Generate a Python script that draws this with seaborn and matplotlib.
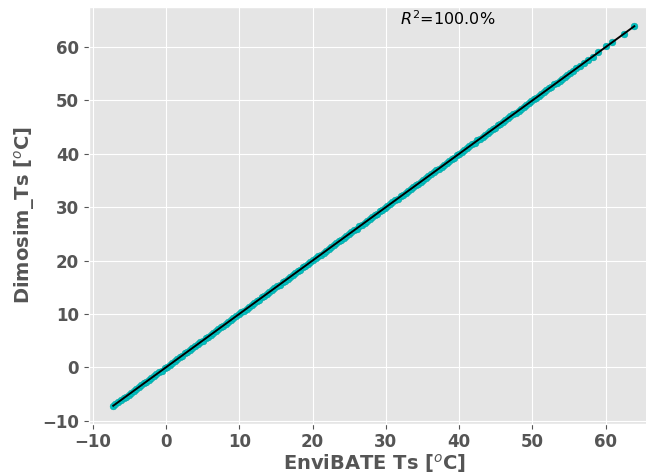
import numpy as np
import pandas as pd
import matplotlib
matplotlib.use("Agg")
import matplotlib.pyplot as plt
import seaborn as sns

# surface temperatures (points lie on the 1:1 line)
envibate_ts = [-7.2, -6.9, -6.5, -6.2, -5.8, -5.5, -5.1, -4.8, -4.4, -4.1,
               -3.7, -3.4, -3.0, -2.7, -2.3, -2.0, -1.6, -1.3, -0.9, -0.6,
               -0.2, 0.1, 0.5, 0.8, 1.2, 1.5, 1.9, 2.2, 2.6, 2.9,
               3.3, 3.6, 4.0, 4.3, 4.7, 5.0, 5.4, 5.7, 6.1, 6.4,
               6.8, 7.1, 7.5, 7.8, 8.2, 8.5, 8.9, 9.2, 9.6, 9.9,
               10.3, 10.6, 11.0, 11.3, 11.7, 12.0, 12.4, 12.7, 13.1, 13.4,
               13.8, 14.1, 14.5, 14.8, 15.2, 15.5, 15.9, 16.2, 16.6, 16.9,
               17.3, 17.6, 18.0, 18.3, 18.7, 19.0, 19.4, 19.7, 20.1, 20.4,
               20.8, 21.1, 21.5, 21.8, 22.2, 22.5, 22.9, 23.2, 23.6, 23.9,
               24.3, 24.6, 25.0, 25.3, 25.7, 26.0, 26.4, 26.7, 27.1, 27.4,
               27.8, 28.1, 28.5, 28.8, 29.2, 29.5, 29.9, 30.2, 30.6, 30.9,
               31.3, 31.6, 32.0, 32.3, 32.7, 33.0, 33.4, 33.7, 34.1, 34.4,
               34.8, 35.1, 35.5, 35.8, 36.2, 36.5, 36.9, 37.2, 37.6, 37.9,
               38.3, 38.6, 39.0, 39.3, 39.7, 40.0, 40.4, 40.7, 41.1, 41.4,
               41.8, 42.1, 42.5, 42.8, 43.2, 43.5, 43.9, 44.2, 44.6, 44.9,
               45.3, 45.6, 46.0, 46.3, 46.7, 47.0, 47.4, 47.7, 48.1, 48.4,
               48.8, 49.1, 49.5, 49.8, 50.2, 50.5, 50.9, 51.2, 51.6, 51.9,
               52.3, 52.6, 53.0, 53.3, 53.7, 54.0, 54.4, 54.7, 55.1, 55.6,
               56.0, 56.5, 57.1, 57.6, 58.2, 59.0, 60.1, 60.9, 62.5, 63.9]
dimosim_ts = list(envibate_ts)
r2_text = "$R^2$=100.0%"

df = pd.DataFrame({"EnviBATE": envibate_ts, "Dimosim": dimosim_ts})

plt.style.use("ggplot")
fig = plt.figure(figsize=(6.46, 4.74), dpi=100)
ax = fig.add_axes([0.1373, 0.1063, 0.886, 0.8795])

sns.scatterplot(data=df, x="EnviBATE", y="Dimosim", ax=ax, color="c",
                edgecolor="#009a9a", linewidth=0.3, s=24, zorder=3)

# linear fit drawn over the points
a, b = np.polyfit(df["EnviBATE"], df["Dimosim"], 1)
fit_x = np.array([df["EnviBATE"].min(), df["EnviBATE"].max()])
sns.lineplot(x=fit_x, y=a * fit_x + b, ax=ax, color="black", linewidth=1.4, zorder=4)

ax.set_xlim(-10.55, 67.55)
ax.set_ylim(-10.55, 67.55)
ax.set_xticks(range(-10, 61, 10))
ax.set_yticks(range(-10, 61, 10))
ax.text(31.9, 65.4, r2_text, fontsize=11.5, color="black", va="center")

ax.set_xlabel("EnviBATE Ts [$^o$C]", fontsize=14, fontweight="bold",
              color="#555555", labelpad=0.5)
ax.set_ylabel("Dimosim_Ts [$^o$C]", fontsize=14, fontweight="bold", color="#555555")
for lab in ax.get_xticklabels() + ax.get_yticklabels():
    lab.set_fontsize(12)
    lab.set_fontweight("bold")
    lab.set_color("#555555")

fig.savefig("out.png", dpi=100)
